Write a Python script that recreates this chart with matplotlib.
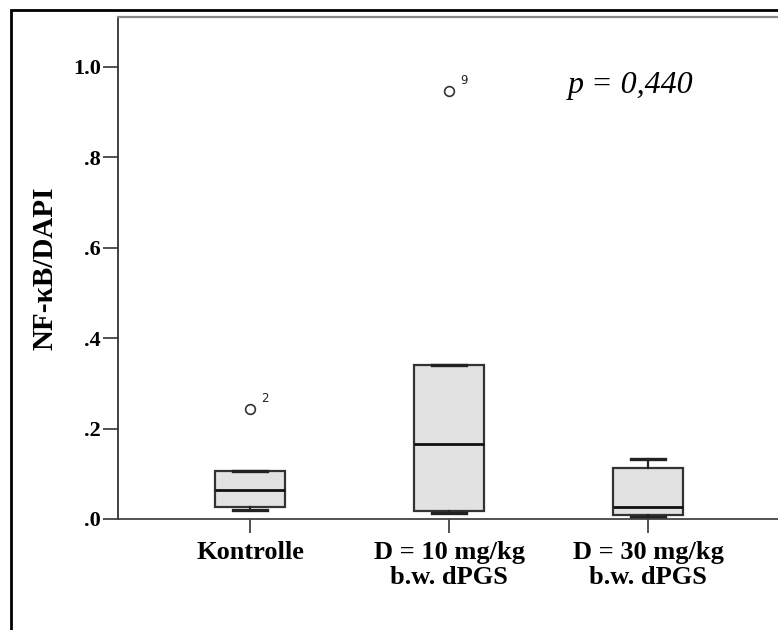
import matplotlib
matplotlib.use("Agg")
import matplotlib.pyplot as plt
from matplotlib.patches import Rectangle

categories = ["Kontrolle", "D = 10 mg/kg\nb.w. dPGS", "D = 30 mg/kg\nb.w. dPGS"]
whislo = [0.020, 0.013, 0.004]
q1 = [0.027, 0.018, 0.009]
med = [0.064, 0.166, 0.027]
q3 = [0.106, 0.341, 0.113]
whishi = [0.106, 0.341, 0.133]
outliers = [[0.243], [0.947], []]
outlier_labels = [["2"], ["9"], []]
yticks = [0.0, 0.2, 0.4, 0.6, 0.8, 1.0]
ytick_labels = [".0", ".2", ".4", ".6", ".8", "1.0"]

serif = ["Liberation Serif", "DejaVu Serif"]

fig = plt.figure(figsize=(7.78, 6.30), dpi=100)
ax = fig.add_axes([118/778, 1-519/630, (780-118)/778, (519-17)/630])

stats = []
for i in range(3):
    stats.append(dict(whislo=whislo[i], q1=q1[i], med=med[i], q3=q3[i],
                      whishi=whishi[i], fliers=[], label=categories[i]))

ax.bxp(stats, positions=[1, 2, 3], widths=0.35, patch_artist=True,
       showfliers=False,
       boxprops=dict(facecolor="#e2e2e2", edgecolor="#333333", linewidth=1.6),
       medianprops=dict(color="#111111", linewidth=2.0),
       whiskerprops=dict(color="#222222", linewidth=1.6),
       capprops=dict(color="#222222", linewidth=2.4),
       capwidths=0.17)

for i in range(3):
    for v, lab in zip(outliers[i], outlier_labels[i]):
        ax.plot([i + 1], [v], marker="o", markersize=7, markerfacecolor="white",
                markeredgecolor="#333333", markeredgewidth=1.2, linestyle="none")
        ax.text(i + 1 + 0.055, v + 0.008, lab, fontsize=8.5, family="DejaVu Sans",
                ha="left", va="bottom", color="#222222")

ax.set_xlim(1 - 132/199, 3 + 132/199)
ax.set_ylim(0, 1.11)
ax.set_yticks(yticks)
ax.set_yticklabels(ytick_labels, fontsize=16, fontweight="bold", family=serif)
ax.set_xticks([1, 2, 3])
ax.set_xticklabels(categories, fontsize=19, fontweight="bold", family=serif,
                   linespacing=1.12)
ax.tick_params(axis="y", length=10.5, width=1.2, color="#333333", pad=2)
ax.tick_params(axis="x", length=10, width=1.2, color="#333333", pad=6)

ax.spines["left"].set_color("#333333")
ax.spines["left"].set_linewidth(1.3)
ax.spines["bottom"].set_color("#444444")
ax.spines["bottom"].set_linewidth(1.3)
ax.spines["top"].set_color("#888888")
ax.spines["top"].set_linewidth(1.6)
ax.spines["right"].set_visible(False)

ax.set_ylabel("NF-κB/DAPI", fontsize=21, fontweight="bold", family=serif)
ax.yaxis.set_label_coords(-0.09, 0.5)

ax.text(568/778, 1 - 86/630, "p = 0,440", transform=fig.transFigure,
        fontsize=23, style="italic", family=serif, ha="left", va="center")

fig.patches.append(Rectangle((11/778, -0.1), 1.2, 1 - 10/630 + 0.1,
                             transform=fig.transFigure, fill=False,
                             edgecolor="black", linewidth=2))

fig.savefig("out.png", dpi=100)
